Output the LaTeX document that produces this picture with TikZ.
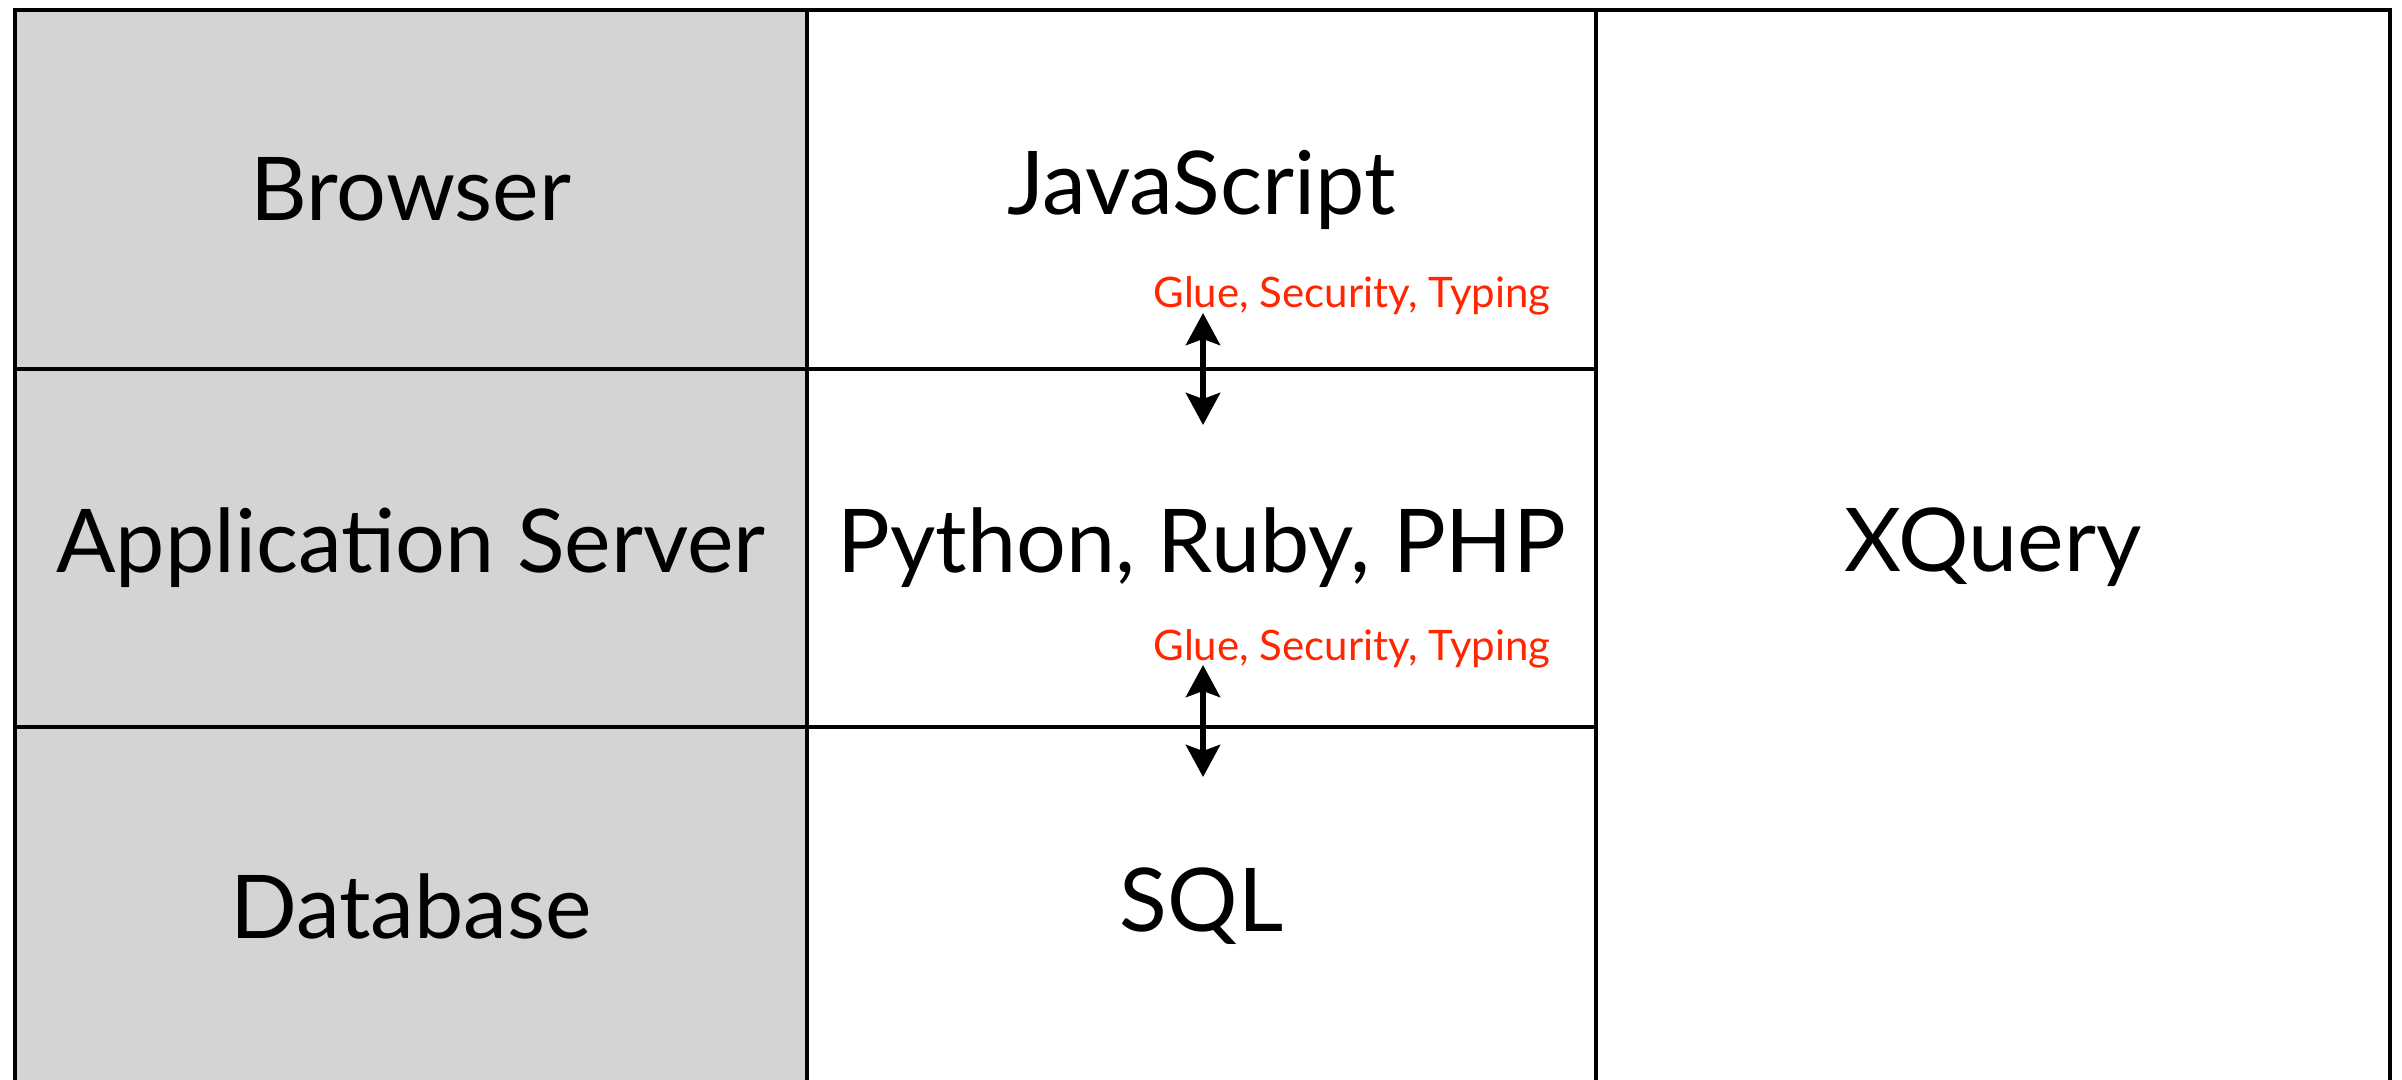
\documentclass[tikz,border=0pt]{standalone}
\usepackage{fontspec}
\setmainfont{Lato}
\usetikzlibrary{arrows.meta}
\definecolor{cellgray}{RGB}{212,212,212}
\definecolor{gluered}{RGB}{255,38,0}
\begin{document}
\begin{tikzpicture}[x=0.5pt,y=-0.5pt,
  cell/.style={draw=black,line width=2pt,inner sep=0pt,outer sep=0pt,font=\fontsize{44pt}{50pt}\selectfont},
  graycell/.style={cell,fill=cellgray},
  whitecell/.style={cell,fill=white},
  gluelabel/.style={text=gluered,inner sep=0pt,anchor=base,font=\fontsize{21pt}{24pt}\selectfont},
  link/.style={line width=3pt,{Stealth[length=16pt,width=17pt,inset=3pt]}-{Stealth[length=16pt,width=17pt,inset=3pt]}}]
\useasboundingbox (0,0) rectangle (2402,1080);
\begin{scope}
\clip (0,0) rectangle (2402,1080);
% left column
\node[graycell,minimum width=396pt,minimum height=179.5pt] (browser) at (411,189.5) {Browser};
\node[graycell,minimum width=396pt,minimum height=179pt] (appserver) at (411,548) {Application Server};
\node[graycell,minimum width=396pt,minimum height=179pt] (database) at (411,906) {Database};
% middle column
\node[whitecell,minimum width=394.5pt,minimum height=179.5pt] (js) at (1201.5,189.5) {JavaScript};
\node[whitecell,minimum width=394.5pt,minimum height=179pt] (python) at (1201.5,548) {Python, Ruby, PHP};
\node[whitecell,minimum width=394.5pt,minimum height=179pt] (sql) at (1201.5,906) {SQL};
% right column
\node[whitecell,minimum width=397pt,minimum height=537.5pt] (xquery) at (1993,547.5) {XQuery};
\end{scope}
% glue labels
\node[gluelabel] (glue1) at (1352,308) {Glue, Security, Typing};
\node[gluelabel] (glue2) at (1352,660) {Glue, Security, Typing};
% arrows
\coordinate (a1top) at (1203,313);
\coordinate (a1bot) at (1203,425);
\coordinate (a2top) at (1203,665);
\coordinate (a2bot) at (1203,777);
\draw[link] (a1top) -- (a1bot);
\draw[link] (a2top) -- (a2bot);
\end{tikzpicture}
\end{document}
